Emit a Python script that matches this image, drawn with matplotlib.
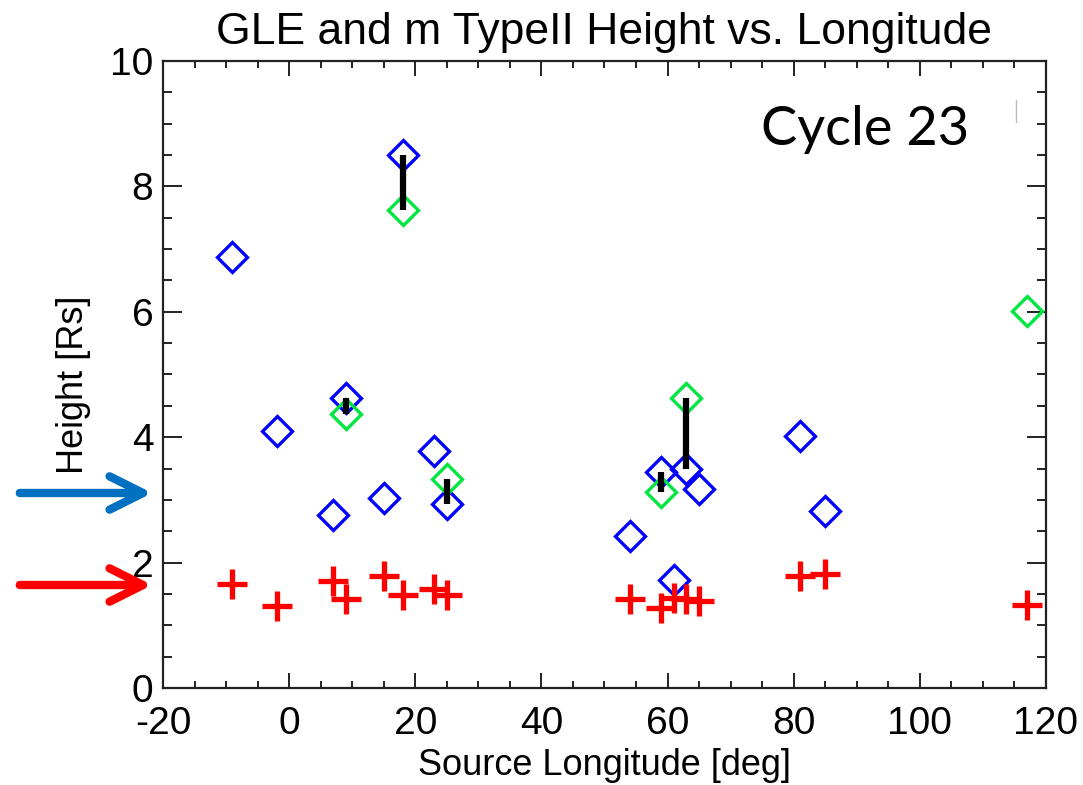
import matplotlib
matplotlib.use('Agg')
import matplotlib.pyplot as plt
from matplotlib.patches import FancyArrowPatch
from matplotlib.lines import Line2D
from matplotlib.ticker import MultipleLocator

plt.rcParams['font.family'] = ['Liberation Sans', 'DejaVu Sans']
plt.rcParams['axes.unicode_minus'] = False

# longitudes of the GLE events
lon = [-9, -2, 7, 9, 15, 18, 23, 25, 54, 59, 61, 63, 65, 81, 85, 117]
# m type II onset heights (red +)
h_typeii = [1.66, 1.30, 1.70, 1.42, 1.78, 1.49, 1.58, 1.49,
            1.42, 1.28, 1.44, 1.42, 1.38, 1.78, 1.81, 1.33]

# GLE heights, blue diamonds
lon_blue = [-9, -2, 7, 9, 15, 18, 23, 25, 54, 59, 61, 63, 65, 81, 85]
h_blue = [6.88, 4.10, 2.76, 4.62, 3.03, 8.50, 3.78, 2.93,
          2.43, 3.44, 1.73, 3.49, 3.18, 4.02, 2.82]

# GLE heights, green diamonds
lon_green = [9, 18, 25, 59, 63, 117]
h_green = [4.37, 7.63, 3.33, 3.12, 4.62, 6.02]

fig = plt.figure(figsize=(10.83, 7.85), dpi=100)
ax = fig.add_axes([0.1505, 0.1236, 0.8153, 0.7987])

ax.plot(lon_blue, h_blue, linestyle='none', marker='D', ms=15.5,
        mfc='none', mec='#0000ff', mew=2.4)
ax.plot(lon_green, h_green, linestyle='none', marker='D', ms=15.5,
        mfc='none', mec='#00e640', mew=2.4)

# black bars between blue and green of the same event
bx, blo, bhi = [], [], []
for x, g in zip(lon_green, h_green):
    if x in lon_blue:
        b = h_blue[lon_blue.index(x)]
        bx.append(x)
        blo.append(min(b, g))
        bhi.append(max(b, g))
ax.vlines(bx, blo, bhi, colors='black', linewidth=4.5, zorder=4)

ax.plot(lon, h_typeii, linestyle='none', marker='+', ms=21,
        mec='#ff0000', mew=3.8, zorder=5)

ax.set_xlim(-20, 120)
ax.set_ylim(0, 10)
ax.xaxis.set_major_locator(MultipleLocator(20))
ax.xaxis.set_minor_locator(MultipleLocator(5))
ax.yaxis.set_major_locator(MultipleLocator(2))
ax.yaxis.set_minor_locator(MultipleLocator(0.5))

ax.tick_params(axis='both', which='both', direction='in',
               top=True, right=True, width=1.4, colors='#222222')
ax.tick_params(axis='x', which='major', length=10.8, pad=13, labelsize=28)
ax.tick_params(axis='x', which='minor', length=5)
ax.tick_params(axis='y', which='major', length=13.7, pad=7, labelsize=28)
ax.tick_params(axis='y', which='minor', length=6.8)
for lbl in ax.get_xticklabels() + ax.get_yticklabels():
    lbl.set_color('black')
for s in ax.spines.values():
    s.set_linewidth(1.6)
    s.set_color('#222222')

ax.set_xlabel('Source Longitude [deg]', fontsize=26, labelpad=4)
ax.set_ylabel('Height [Rs]', fontsize=26)
ax.yaxis.set_label_coords(-0.082, 0.483)
ax.set_title('GLE and m TypeII Height vs. Longitude', fontsize=32, pad=12)

ax.text(0.795, 0.89, 'Cycle 23', transform=ax.transAxes, fontsize=39,
        family=['Lato', 'DejaVu Sans'], ha='center', va='center')

# arrows on the left pointing at the axis
W, H = 1083, 785
for yp, col in [(493, '#0070c0'), (585, '#ff0000')]:
    arr = FancyArrowPatch((17 / W, 1 - yp / H), (155 / W, 1 - yp / H),
                          transform=fig.transFigure,
                          arrowstyle='->,head_length=1.0,head_width=0.5',
                          mutation_scale=24, color=col, linewidth=6,
                          capstyle='round', joinstyle='round')
    fig.add_artist(arr)

# small grey mark near the top right
fig.add_artist(Line2D([1016 / W, 1016 / W], [1 - 100 / H, 1 - 122 / H],
                      transform=fig.transFigure, color='#bbbbbb', lw=1))

fig.savefig('out.png', dpi=100)
